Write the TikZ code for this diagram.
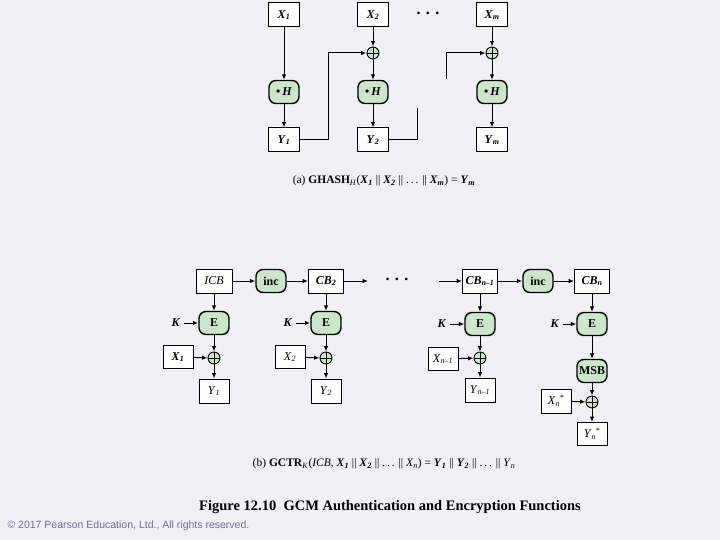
\documentclass[tikz,border=0pt]{standalone}
\usepackage{fontspec}
\setmainfont{Liberation Serif}
\setsansfont{Liberation Sans}
\usetikzlibrary{arrows.meta}
\definecolor{bgc}{RGB}{240,240,246}
\definecolor{gfill}{RGB}{204,230,204}
\definecolor{copyc}{RGB}{110,110,150}
\newcommand{\bv}[2]{\textbf{\textit{#1}}\textsubscript{\textbf{\textit{#2}}}}
\newcommand{\iv}[2]{\textit{#1}\textsubscript{\textit{#2}}}
\newcommand{\sv}[2]{\textit{#1}\textsubscript{\textit{#2}}\kern-0.5pt\textsuperscript{\textit{*}}}
\tikzset{
  box/.style={draw, fill=white, line width=1pt, minimum width=31pt, minimum height=24pt, inner sep=1pt, font=\fontsize{12}{14}\selectfont},
  gbox/.style={draw, fill=gfill, line width=1.4pt, rounded corners=7pt, minimum width=30pt, minimum height=23pt, inner sep=1pt, font=\fontsize{12}{14}\selectfont\bfseries},
  xor/.style={draw, circle, fill=gfill, line width=0.9pt, minimum size=12pt, inner sep=0pt,
    path picture={\draw[line width=0.7pt] (path picture bounding box.north) -- (path picture bounding box.south)
      (path picture bounding box.west) -- (path picture bounding box.east);}},
  arr/.style={line width=1pt, -{Latex[length=5.5pt,width=4.5pt]}},
  ln/.style={line width=1pt},
  lbl/.style={font=\fontsize{12}{14}\selectfont},
  dotsn/.style={font=\fontsize{16}{16}\selectfont\bfseries}
}
\begin{document}
\begin{tikzpicture}[x=1pt,y=-1pt]
\fill[bgc] (0,0) rectangle (720,540);
\useasboundingbox (0,0) rectangle (720,540);
% ---------- (a) GHASH ----------
\node[box] (x1) at (284,15) {\bv{X}{1}};
\node[box] (x2) at (373,15) {\bv{X}{2}};
\node[box] (xm) at (492,15) {\bv{X}{m}};
\node[dotsn] (da) at (428,13) {.\,\,.\,\,.};
\node[xor] (o2) at (373,53) {};
\node[xor] (om) at (492,53) {};
\node[gbox] (h1) at (284,92) {\textbullet\,\textit{H}};
\node[gbox] (h2) at (373,92) {\textbullet\,\textit{H}};
\node[gbox] (hm) at (492,92) {\textbullet\,\textit{H}};
\node[box] (y1) at (284,140) {\bv{Y}{1}};
\node[box] (y2) at (373,140) {\bv{Y}{2}};
\node[box] (ym) at (492,140) {\bv{Y}{m}};
\draw[arr] (x1) -- (h1);
\draw[arr] (h1) -- (y1);
\draw[arr] (x2) -- (o2);
\draw[arr] (o2) -- (h2);
\draw[arr] (h2) -- (y2);
\draw[arr] (xm) -- (om);
\draw[arr] (om) -- (hm);
\draw[arr] (hm) -- (ym);
\coordinate (ta) at (328,140);
\draw[arr] (y1.east) -- (ta) |- (o2.west);
\coordinate (tb) at (417,108);
\draw[ln] (y2.east) -| (tb);
\coordinate (tc) at (446,79);
\draw[arr] (tc) |- (om.west);
\node[font=\fontsize{11.5}{13}\selectfont] (capa) at (384,181)
  {(a) \textbf{GHASH}\textsubscript{\textit{H}}(\bv{X}{1} || \bv{X}{2} || .\,.\,. || \bv{X}{m}) = \bv{Y}{m}};
% ---------- (b) GCTR ----------
\node[box, minimum width=36pt] (icb) at (214,281) {\textit{ICB}};
\node[gbox] (inc1) at (271,281) {inc};
\node[box, minimum width=35pt] (cb2) at (326,281) {\bv{CB}{2}};
\coordinate (cbo) at (368,281);
\node[dotsn] (db) at (397,279) {.\,\,.\,\,.};
\coordinate (cbi) at (439,281);
\node[box, minimum width=35pt] (cbn1) at (480,281) {\bv{CB}{n\textbf{--}1}};
\node[gbox] (inc2) at (538,281) {inc};
\node[box, minimum width=35pt] (cbn) at (592,281) {\bv{CB}{n}};
\node[gbox] (e1) at (214,323) {E};
\node[gbox] (e2) at (326,323) {E};
\node[gbox] (e3) at (480,324) {E};
\node[gbox] (e4) at (592,324) {E};
\node[lbl] (k1) at (176,323) {\textbf{\textit{K}}};
\node[lbl] (k2) at (288,323) {\textbf{\textit{K}}};
\node[lbl] (k3) at (442,324) {\textbf{\textit{K}}};
\node[lbl] (k4) at (555,324) {\textbf{\textit{K}}};
\node[xor] (ob1) at (214,358) {};
\node[xor] (ob2) at (326,358) {};
\node[xor] (ob3) at (480,358) {};
\node[box, minimum width=30pt, minimum height=23pt] (bx1) at (178,357) {\bv{X}{1}};
\node[box, minimum width=30pt, minimum height=23pt] (bx2) at (290,357) {\iv{X}{2}};
\node[box, minimum width=30pt, minimum height=23pt] (bx3) at (443,359) {\iv{X}{n--1}};
\node[box, minimum width=30pt, minimum height=24pt] (by1) at (214,391) {\iv{Y}{1}};
\node[box, minimum width=30pt, minimum height=24pt] (by2) at (326,391) {\iv{Y}{2}};
\node[box, minimum width=30pt, minimum height=24pt] (by3) at (480,390) {\iv{Y}{n--1}};
\node[gbox] (msb) at (592,371) {MSB};
\node[xor] (ob4) at (592,402) {};
\node[box, minimum width=30pt, minimum height=24pt] (bxs) at (556,401) {\sv{X}{n}};
\node[box, minimum width=30pt, minimum height=23pt] (bys) at (592,434) {\sv{Y}{n}};
\draw[arr] (icb) -- (inc1);
\draw[arr] (inc1) -- (cb2);
\draw[arr] (cb2) -- (cbo);
\draw[arr] (cbi) -- (cbn1);
\draw[arr] (cbn1) -- (inc2);
\draw[arr] (inc2) -- (cbn);
\draw[arr] (icb) -- (e1);
\draw[arr] (cb2) -- (e2);
\draw[arr] (cbn1) -- (e3);
\draw[arr] (cbn) -- (e4);
\draw[arr] (k1) -- (e1);
\draw[arr] (k2) -- (e2);
\draw[arr] (k3) -- (e3);
\draw[arr] (k4) -- (e4);
\draw[arr] (e1) -- (ob1);
\draw[arr] (e2) -- (ob2);
\draw[arr] (e3) -- (ob3);
\draw[arr] (e4) -- (msb);
\draw[arr] (bx1) -- (ob1);
\draw[arr] (bx2) -- (ob2);
\draw[arr] (bx3) -- (ob3);
\draw[arr] (ob1) -- (by1);
\draw[arr] (ob2) -- (by2);
\draw[arr] (ob3) -- (by3);
\draw[arr] (msb) -- (ob4);
\draw[arr] (bxs) -- (ob4);
\draw[arr] (ob4) -- (bys);
\node[font=\fontsize{11.5}{13}\selectfont] (capb) at (384,464)
  {(b) \textbf{GCTR}\textsubscript{\textit{K}}(\textit{ICB}, \bv{X}{1} || \bv{X}{2} || .\,.\,. || \iv{X}{n}) = \bv{Y}{1} || \bv{Y}{2} || .\,.\,. || \iv{Y}{n}};
\node[font=\fontsize{14.5}{16}\selectfont\bfseries] (fig) at (390,507) {Figure 12.10\ \ GCM Authentication and Encryption Functions};
\node[anchor=west, text=copyc, font=\sffamily\fontsize{10.5}{12}\selectfont] (copy) at (4,526) {© 2017 Pearson Education, Ltd., All rights reserved.};
\end{tikzpicture}
\end{document}
